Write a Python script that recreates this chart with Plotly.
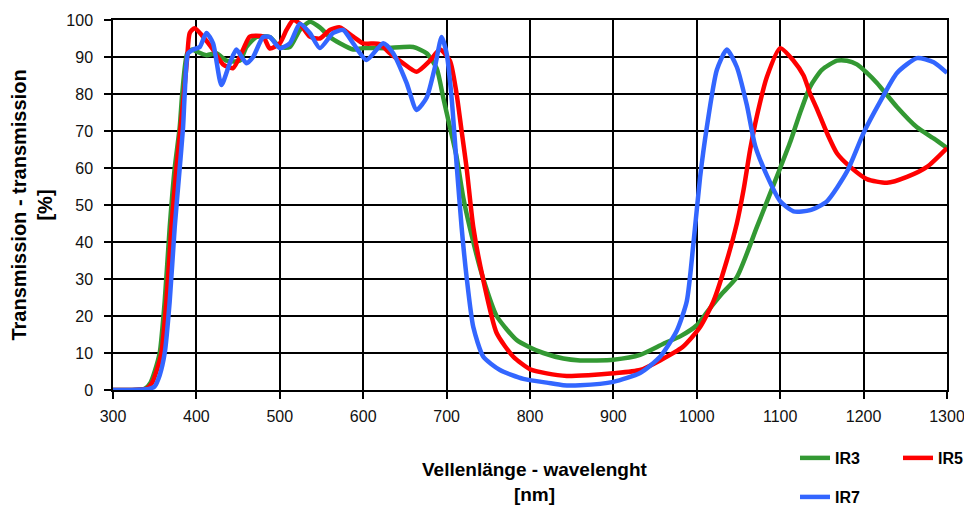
import plotly.graph_objects as go

# ---- data ----
ir3_x = [300, 320, 338, 345, 350, 356, 362, 368, 374, 380, 383, 389, 395, 400, 412, 424, 436, 452, 460, 472,
         488, 500, 512, 524, 536, 548, 560, 572, 588, 600, 628, 660, 676, 688, 696, 704, 712, 720, 732, 744,
         760, 784, 800, 816, 840, 860, 880, 900, 932, 960, 980, 1000, 1012, 1030, 1048, 1072, 1086, 1100, 1112,
         1124, 1136, 1150, 1168, 1180, 1192, 1204, 1216, 1240, 1264, 1284, 1300]
ir3_y = [0, 0, 0.3, 2, 5, 10, 24, 44, 60, 71, 80, 91, 92, 91.5, 90.5, 91, 89, 89, 92.7, 95.4,
         95.4, 92.7, 92.7, 97.3, 99.5, 98, 95.4, 93.7, 92, 92.4, 92.4, 92.7, 91, 87, 79, 71, 63, 52, 40, 30,
         20, 13.5, 11.5, 10, 8.5, 8, 8, 8.2, 9.5, 12.5, 14.5, 17.5, 21, 26, 30.5, 44, 52, 60, 67,
         75, 82, 86.5, 89, 89, 88, 85.7, 83, 76.5, 71, 68, 65.4]

ir5_x = [300, 320, 340, 347, 352, 358, 364, 370, 376, 381, 385, 389, 392, 398, 408, 420, 432, 444, 456, 464,
         480, 488, 500, 508, 516, 524, 536, 548, 560, 572, 588, 600, 620, 632, 648, 664, 680, 692, 704, 712,
         718, 724, 732, 744, 760, 780, 800, 820, 844, 870, 900, 932, 956, 983, 1004, 1020, 1036, 1048, 1056,
         1064, 1072, 1084, 1100, 1116, 1128, 1136, 1144, 1156, 1168, 1184, 1204, 1228, 1252, 1276, 1300]
ir5_y = [0, 0, 0.3, 2, 5, 10, 24, 44, 60, 71, 80, 90, 96.5, 97.8, 95.5, 92, 88, 87, 92, 95.5,
         95.5, 92.3, 93.7, 97.3, 100, 99, 95.5, 95, 97.3, 98, 95.5, 93.7, 93.5, 91, 88.3, 86, 89, 92, 89, 80,
         70, 60, 44, 29.7, 15.4, 9, 5.6, 4.5, 3.8, 4, 4.5, 5.4, 8, 11.6, 17, 24, 35, 45, 54,
         65, 74, 84.6, 92.4, 89, 85, 80, 76, 69.5, 64, 60.3, 57, 56, 57.6, 60.3, 65.4]

ir7_x = [300, 320, 343, 350, 356, 362, 368, 374, 380, 384, 386, 390, 396, 404, 412, 420, 430, 440, 448, 460,
         468, 480, 488, 500, 512, 524, 536, 548, 564, 576, 588, 604, 624, 636, 652, 664, 676, 686, 694, 700,
         706, 712, 718, 724, 732, 744, 764, 792, 820, 840, 860, 900, 932, 956, 976, 988, 996, 1004, 1012,
         1024, 1036, 1048, 1060, 1070, 1084, 1100, 1116, 1136, 1156, 1180, 1200, 1220, 1240, 1264, 1284, 1300]
ir7_y = [0, 0, 0.3, 1, 4, 10, 24, 44, 60, 71, 80, 91, 92, 92.7, 96.5, 93.7, 82.4, 88.3, 92, 88.3,
         90, 95.4, 95.4, 92.4, 93.7, 99, 96.5, 92.4, 96.5, 97.3, 93.7, 89.2, 93.7, 91, 83, 75.7, 79, 87.3, 95.4, 91,
         79, 61, 44, 30.5, 17, 9, 5.4, 3, 2, 1.3, 1.3, 2.2, 4.6, 9, 16, 24, 39.7, 57.6, 71,
         86.5, 92, 87.3, 77, 66, 58, 51, 48.3, 48.6, 51, 59, 69.5, 78, 85.7, 89.7, 88.6, 85.7]

x_ticks = [300, 400, 500, 600, 700, 800, 900, 1000, 1100, 1200, 1300]
y_ticks = [0, 10, 20, 30, 40, 50, 60, 70, 80, 90, 100]

names = ["IR3", "IR5", "IR7"]
colors = ["#339933", "#FF0000", "#3366FF"]
x_title = "Vellenlänge - wavelenght<br>[nm]"
y_title = "Transmission - transmission<br>[%]"

fig = go.Figure()
fig.add_trace(go.Scatter(x=ir3_x, y=ir3_y, name=names[0], mode="lines",
                         line=dict(color=colors[0], width=4.5, shape="spline", smoothing=0.6),
                         legend="legend", legendwidth=58))
fig.add_trace(go.Scatter(x=ir5_x, y=ir5_y, name=names[1], mode="lines",
                         line=dict(color=colors[1], width=4.5, shape="spline", smoothing=0.6),
                         legend="legend", legendwidth=28))
fig.add_trace(go.Scatter(x=ir7_x, y=ir7_y, name=names[2], mode="lines",
                         line=dict(color=colors[2], width=4.5, shape="spline", smoothing=0.6),
                         legend="legend2", legendwidth=28))

tick_font = dict(family="Arial, Liberation Sans, sans-serif", size=16, color="#111")
title_font = dict(family="Arial, Liberation Sans, sans-serif", size=20, color="#000", weight="bold")
xtitle_font = dict(family="Arial, Liberation Sans, sans-serif", size=19, color="#000", weight="bold")
leg_font = dict(family="Arial, Liberation Sans, sans-serif", size=16, color="#000", weight="bold")

# The page body adds an 8px offset, so the figure is 8px smaller and margins shifted.
fig.update_layout(
    width=964, height=503,
    margin=dict(l=105, r=25, t=12, b=121, autoexpand=False),
    paper_bgcolor="white", plot_bgcolor="white",
    showlegend=True,
    legend=dict(orientation="h", xref="container", yref="container",
                x=0.8164, xanchor="left", y=0.1054, yanchor="middle",
                entrywidthmode="pixels", font=leg_font,
                bgcolor="rgba(0,0,0,0)", traceorder="normal"),
    legend2=dict(orientation="h", xref="container", yref="container",
                 x=0.8164, xanchor="left", y=0.0278, yanchor="middle",
                 entrywidthmode="pixels", font=leg_font,
                 bgcolor="rgba(0,0,0,0)"),
    xaxis=dict(range=[300, 1300], tickvals=x_ticks, ticktext=[str(v) for v in x_ticks],
               showgrid=True, gridcolor="#000", gridwidth=1.5,
               showline=True, linecolor="#000", linewidth=1.5, mirror=True,
               ticks="outside", ticklen=7, tickwidth=1.5, tickcolor="#000",
               ticklabelstandoff=4, automargin=True,
               tickfont=tick_font, zeroline=False),
    yaxis=dict(range=[0, 100], tickvals=y_ticks, ticktext=[str(v) for v in y_ticks],
               showgrid=True, gridcolor="#000", gridwidth=1.5,
               showline=True, linecolor="#000", linewidth=1.5, mirror=True,
               ticks="outside", ticklen=7, tickwidth=1.5, tickcolor="#000",
               ticklabelstandoff=8, automargin=True,
               tickfont=tick_font, zeroline=False,
               title=dict(text=y_title, font=title_font, standoff=12)),
    annotations=[dict(text=x_title, xref="paper", yref="paper", x=0.506, y=-0.18,
                      xanchor="center", yanchor="top", showarrow=False, font=xtitle_font)],
)

fig.write_html("out.html")
